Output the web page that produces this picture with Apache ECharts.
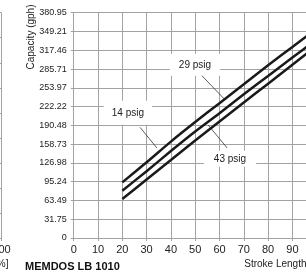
<!DOCTYPE html>
<html>
<head>
<meta charset="utf-8">
<script src="https://cdn.jsdelivr.net/npm/echarts@6/dist/echarts.min.js"></script>
<style>
html, body { margin: 0; padding: 0; overflow: hidden; background: #fff; }
#capacity-chart { width: 340px; height: 273px; }
</style>
</head>
<body>
<div id="capacity-chart"></div>
<script>
// stroke length [%] vs capacity (gph)
var strokeLength = [20, 30, 40, 50, 60, 70, 80, 90, 100]
var cap14 = [94, 128, 163, 196, 228, 260, 292, 323, 354]
var cap29 = [80, 113, 147, 180, 211, 243, 274, 305, 336]
var cap43 = [66, 99, 132, 165, 197, 229, 261, 293, 325]

var yMax = 380.95
var yTickLabels = ['0', '31.75', '63.49', '95.24', '126.98', '158.73', '190.48',
  '222.22', '253.97', '285.71', '317.46', '349.21', '380.95']

// pressure callouts: label centre and leader line, all in data units
var pressureLabels = ['14 psig', '29 psig', '43 psig']
var labelAt = [[22.3, 211.6], [49.9, 292.9], [64.3, 133.8]]
var leaderFrom = [[27.3, 187.1], [52.8, 274.3], [63.1, 152.4]]
var leaderTo = [[34.2, 152.4], [62.3, 233.6], [55.3, 191.3]]

var yStep = yMax / (yTickLabels.length - 1)
var font = 'Liberation Sans, Arial, sans-serif'
var gridColor = '#a3a3a3'
var lineColor = '#1a1a1a'

var myChart = echarts.init(document.getElementById('capacity-chart'))

function pairs (ys) {
  return strokeLength.map(function (x, i) { return [x, ys[i]] })
}

function curve (name, ys) {
  return {
    name: name,
    type: 'line',
    xAxisIndex: 0,
    yAxisIndex: 0,
    data: pairs(ys),
    symbol: 'none',
    smooth: 0.3,
    z: 3,
    lineStyle: { color: lineColor, width: 2.5 }
  }
}

function strokeAxis (gridIndex) {
  return {
    gridIndex: gridIndex,
    type: 'value',
    min: 0,
    max: 100,
    interval: 10,
    name: 'Stroke Length [%]',
    nameLocation: 'end',
    nameGap: 7,
    nameTextStyle: { fontSize: 10, color: '#222', align: 'right', verticalAlign: 'top', padding: [21, 0, 0, 0] },
    axisLine: { lineStyle: { color: gridColor } },
    axisTick: { length: 3, lineStyle: { color: gridColor } },
    axisLabel: { fontSize: 11, color: '#222', margin: 6 },
    splitLine: { lineStyle: { color: gridColor } }
  }
}

var option = {
  animation: false,
  textStyle: { fontFamily: font },
  grid: [
    { left: 73.7, top: 12.7, width: 243, height: 225.3, containLabel: false, outerBoundsMode: 'none' },
    // edge of the neighbouring sheet chart, cropped at the left border
    { left: -241.5, top: 12.7, width: 243, height: 225.3, containLabel: false, outerBoundsMode: 'none' }
  ],
  xAxis: [strokeAxis(0), strokeAxis(1)],
  yAxis: [
    {
      gridIndex: 0,
      type: 'value',
      min: 0,
      max: yMax,
      interval: yStep,
      axisLine: { show: true, lineStyle: { color: gridColor } },
      axisTick: { show: true, length: 3, lineStyle: { color: gridColor } },
      axisLabel: {
        fontSize: 9,
        color: '#222',
        margin: 7,
        formatter: function (v) { return yTickLabels[Math.round(v / yStep)] }
      },
      splitLine: { lineStyle: { color: gridColor } }
    },
    {
      gridIndex: 1,
      type: 'value',
      min: 0,
      max: 9,
      interval: 1,
      axisLine: { show: false },
      axisTick: { show: false },
      axisLabel: { show: false },
      splitLine: { lineStyle: { color: gridColor } }
    }
  ],
  series: [
    curve('14 psig', cap14),
    curve('29 psig', cap29),
    curve('43 psig', cap43)
  ]
}
myChart.setOption(option, true)

// callouts need pixel positions, so place them after the axes exist
var paddings = [[7, 8], [6, 9], [3, 10]]
var elements = []
pressureLabels.forEach(function (text, i) {
  var p = myChart.convertToPixel({ gridIndex: 0 }, labelAt[i])
  var a = myChart.convertToPixel({ gridIndex: 0 }, leaderFrom[i])
  var b = myChart.convertToPixel({ gridIndex: 0 }, leaderTo[i])
  elements.push({
    type: 'text',
    z: 1,
    x: p[0],
    y: p[1],
    style: {
      text: text,
      fontFamily: font,
      fontSize: 10,
      fill: '#222',
      align: 'center',
      verticalAlign: 'middle',
      backgroundColor: '#fff',
      padding: paddings[i]
    }
  })
  elements.push({
    type: 'line',
    z: 2,
    shape: { x1: a[0], y1: a[1], x2: b[0], y2: b[1] },
    style: { stroke: '#333', lineWidth: 0.8 }
  })
})
elements.push({
  type: 'text',
  x: 31.5,
  y: 37,
  rotation: Math.PI / 2,
  style: {
    text: 'Capacity (gph)',
    fontFamily: font,
    fontSize: 10,
    fill: '#222',
    align: 'center',
    verticalAlign: 'middle'
  }
})
elements.push({
  type: 'text',
  x: 25,
  y: 267,
  style: {
    text: 'MEMDOS LB 1010',
    fontFamily: font,
    fontSize: 11,
    fontWeight: 'bold',
    fill: '#111',
    align: 'left',
    verticalAlign: 'middle'
  }
})
myChart.setOption({ graphic: { elements: elements } })
</script>
</body>
</html>
